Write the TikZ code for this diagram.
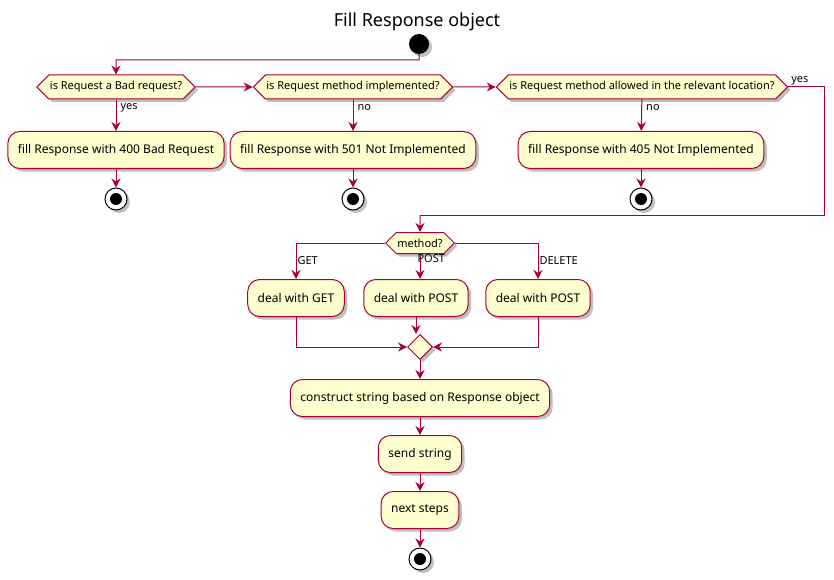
\documentclass[tikz,border=0pt]{standalone}
\usepackage{fontspec}
\setmainfont{Noto Sans}
\usetikzlibrary{shapes.geometric, shapes.symbols, arrows.meta, shadows}
\definecolor{umlred}{HTML}{A80036}
\definecolor{umlfill}{HTML}{FEFECE}
\tikzstyle{umlshadow} = [drop shadow={shadow xshift=3pt, shadow yshift=-3pt, opacity=0.25, fill=black}]
\tikzstyle{action} = [rectangle, rounded corners=12pt, minimum height=37pt, inner xsep=10pt, text centered, draw=umlred, fill=umlfill, line width=1pt, font=\fontsize{12}{14}\selectfont, umlshadow]
\tikzstyle{choice} = [signal, signal to=west and east, signal pointer angle=90, minimum height=24pt, inner xsep=1pt, inner ysep=2pt, text centered, draw=umlred, fill=umlfill, line width=1pt, font=\fontsize{11}{13}\selectfont, umlshadow]
\tikzstyle{junction} = [diamond, minimum width=25pt, minimum height=25pt, inner sep=0pt, draw=umlred, fill=umlfill, line width=1pt, umlshadow]
\tikzstyle{startdot} = [circle, fill=black, minimum size=20pt, inner sep=0pt, umlshadow]
\tikzstyle{stopdot} = [circle, draw=black, fill=white, line width=1pt, minimum size=22pt, inner sep=0pt, umlshadow, path picture={\fill[black] (path picture bounding box.center) circle (6pt);}]
\tikzstyle{guard} = [font=\fontsize{11}{13}\selectfont, inner sep=1pt]
\tikzstyle{line} = [draw=umlred, line width=1pt]
\tikzstyle{arrow} = [line, -{Stealth[length=9pt, width=9pt, inset=3pt]}]

\begin{document}
\begin{tikzpicture}[x=1pt, y=-1pt]
\useasboundingbox (0,0) rectangle (834,580);

% title
\node (title) at (417,22) {\fontsize{18}{22}\selectfont Fill Response object};

% objects
\node (start) at (419,44) [startdot] {};
\node (bad) at (116,87) [choice] {is Request a Bad request?};
\node (impl) at (353,87) [choice] {is Request method implemented?};
\node (allow) at (642,87) [choice] {is Request method allowed in the relevant location?};

\node (fill400) at (116,150) [action] {fill Response with 400 Bad Request};
\node (fill501) at (353,150) [action] {fill Response with 501 Not Implemented};
\node (fill405) at (641,150) [action] {fill Response with 405 Not Implemented};

\node (stop400) at (116,199) [stopdot] {};
\node (stop501) at (353,199) [stopdot] {};
\node (stop405) at (641,199) [stopdot] {};

\node (method) at (420,243) [choice, minimum height=21pt] {method?};
\node (get) at (296,298) [action] {deal with GET};
\node (post) at (416,298) [action] {deal with POST};
\node (delete) at (538,298) [action] {deal with POST};
\node (merge) at (420,347) [junction] {};

\node (construct) at (420,398) [action] {construct string based on Response object};
\node (send) at (420,454) [action] {send string};
\node (next) at (420,510) [action] {next steps};
\node (stop) at (420,559) [stopdot] {};

% bends
\coordinate (split) at (116,60);
\coordinate (yesright) at (824,215);
\coordinate (yesback) at (420,215);

% arrows
\draw [arrow] (start) |- (split) -- (bad);
\draw [arrow] (bad) -- (impl);
\draw [arrow] (impl) -- (allow);
\draw [arrow] (bad) -- node[guard, anchor=west, pos=0.25, xshift=3pt] {yes} (fill400);
\draw [arrow] (impl) -- node[guard, anchor=west, pos=0.25, xshift=3pt] {no} (fill501);
\draw [arrow] (allow) -- node[guard, anchor=west, pos=0.25, xshift=3pt] {no} (fill405);
\draw [arrow] (fill400) -- (stop400);
\draw [arrow] (fill501) -- (stop501);
\draw [arrow] (fill405) -- (stop405);
\draw [line] (allow) -| node[guard, anchor=south west, pos=0.02] {yes} (yesright) -- (yesback);
\draw [arrow] (yesback) -- (method);

\draw [arrow] (method) -| node[guard, anchor=west, pos=0.75] {GET} (get);
\draw [arrow] (method.south) -- node[guard, anchor=west, pos=0.2, xshift=-4pt] {POST} (method.south |- post.north);
\draw [arrow] (method) -| node[guard, anchor=west, pos=0.75] {DELETE} (delete);
\draw [arrow] (get) |- (merge);
\draw [arrow] (delete) |- (merge);
\draw [arrow] (post.south) -- (post.south |- merge.north);

\draw [arrow] (merge) -- (construct);
\draw [arrow] (construct) -- (send);
\draw [arrow] (send) -- (next);
\draw [arrow] (next) -- (stop);

\end{tikzpicture}
\end{document}
